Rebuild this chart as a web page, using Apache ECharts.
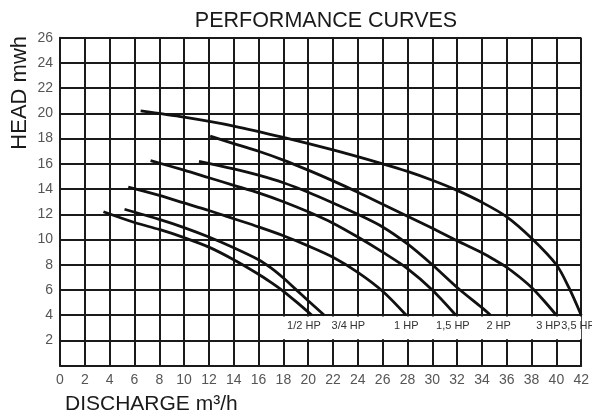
<!DOCTYPE html>
<html>
<head>
<meta charset="utf-8">
<script src="https://cdn.jsdelivr.net/npm/echarts@6/dist/echarts.min.js"></script>
<style>
html,body{margin:0;padding:0;background:#fff;}
#c{width:592px;height:416px;}
</style>
</head>
<body>
<div id="c"></div>
<script>
// ---- data (discharge m3/h, head m) ----
const hp05 = [[3.5,12.2],[6,11.35],[8,10.8],[10,10.15],[12,9.4],[14,8.4],[16,7.25],[17,6.6],[18,5.9],[19,5.1],[20.3,4.0]];
const hp075 = [[5.2,12.4],[8,11.6],[10,10.95],[12,10.2],[14,9.35],[16,8.4],[17,7.75],[18,6.95],[19,6.05],[20,5.15],[21.3,4.0]];
const hp1 = [[5.5,14.15],[8,13.5],[10,12.9],[12,12.3],[14,11.65],[16,11.0],[18,10.3],[20,9.5],[22,8.6],[24,7.4],[26,5.9],[27.9,4.0]];
const hp15 = [[7.3,16.25],[10,15.5],[12,14.9],[14,14.3],[16,13.7],[18,13.0],[20,12.2],[22,11.3],[24,10.2],[26,9.0],[28,7.7],[30,6.0],[31.9,4.0]];
const hp2 = [[11.2,16.2],[14,15.6],[16,15.1],[18,14.5],[20,13.75],[22,12.9],[24,12.0],[26,11.0],[28,9.65],[30,8.0],[32,6.2],[34,4.6],[34.7,4.0]];
const hp3 = [[12.1,18.2],[14,17.6],[16,17.0],[18,16.3],[20,15.5],[22,14.65],[24,13.75],[26,12.8],[28,11.85],[30,10.9],[32,9.9],[34,8.95],[35,8.4],[36,7.8],[37,7.05],[38,6.2],[39,5.15],[40,4.0]];
const hp35 = [[6.5,20.2],[10,19.7],[14,19.0],[18,18.1],[22,17.1],[26,16.0],[28,15.4],[30,14.7],[32,13.9],[34,12.95],[36,11.8],[38,10.1],[40,8.0],[41,6.2],[42,4.0]];
const seriesNames = ['1/2 HP','3/4 HP','1 HP','1,5 HP','2 HP','3 HP','3,5 HP'];
const seriesData = [hp05, hp075, hp1, hp15, hp2, hp3, hp35];
const xMin = 0, xMax = 42, xStep = 2;
const yMin = 0, yMax = 26, yStep = 2;
const titleText = 'PERFORMANCE CURVES';
const yName = 'HEAD mwh';
const xName = 'DISCHARGE m\u00B3/h';

// ---- label styling (offsets from curve end, px) ----
const labelStyle = [
  {dx:-8, align:'center'},
  {dx:24, align:'center'},
  {dx:0, align:'center'},
  {dx:-3, align:'center'},
  {dx:8, align:'center'},
  {dx:-8, align:'center'},
  {dx:-20, align:'left'}
];

const FONT = '"Liberation Sans", Arial, Helvetica, sans-serif';
const chart = echarts.init(document.getElementById('c'));

const series = seriesData.map((d, i) => {
  const last = d[d.length - 1];
  const s = {
    name: seriesNames[i],
    type: 'line',
    data: d,
    smooth: 0.3,
    symbol: 'none',
    lineStyle: {color: '#111', width: 2.8},
    z: 3,
    markPoint: {
      symbol: 'circle', symbolSize: 0,
      data: [{coord: last}],
      label: {
        show: true, position: 'inside',
        formatter: seriesNames[i],
        offset: [labelStyle[i].dx, 10.5],
        align: labelStyle[i].align,
        color: '#333', fontSize: 11, fontFamily: FONT
      }
    }
  };
  if (i === 0) {
    s.markArea = {
      silent: true,
      itemStyle: {color: '#fff'},
      data: [[{coord: [17.9, 2.1]}, {coord: [42, 3.9]}]]
    };
  }
  return s;
});

chart.setOption({
  backgroundColor: '#fff',
  animation: false,
  title: {
    text: titleText, left: 321, top: 5, textAlign: 'center',
    textStyle: {fontFamily: FONT, fontSize: 21.5, fontWeight: 'normal', color: '#1a1a1a'}
  },
  grid: {left: 60, right: 9.5, top: 37.7, bottom: 50.3},
  xAxis: {
    type: 'value', min: xMin, max: xMax, interval: xStep,
    axisLine: {show: true, lineStyle: {color: '#1a1a1a', width: 2}},
    axisTick: {show: false},
    axisLabel: {color: '#555', fontSize: 14, fontFamily: FONT, margin: 7},
    splitLine: {show: true, lineStyle: {color: '#1a1a1a', width: 2}}
  },
  yAxis: {
    type: 'value', min: yMin, max: yMax, interval: yStep,
    axisLine: {show: true, lineStyle: {color: '#1a1a1a', width: 2}},
    axisTick: {show: false},
    axisLabel: {color: '#555', fontSize: 14, fontFamily: FONT, margin: 7, showMinLabel: false},
    splitLine: {show: true, lineStyle: {color: '#1a1a1a', width: 2}}
  },
  graphic: [
    {type: 'text', left: 9, top: 36, rotation: Math.PI/2,
     style: {text: yName, font: '22px ' + FONT, fill: '#1a1a1a'}},
    {type: 'text', left: 65, top: 394,
     style: {text: xName, font: '21px ' + FONT, fill: '#1a1a1a'}}
  ],
  series: series
});
</script>
</body>
</html>
